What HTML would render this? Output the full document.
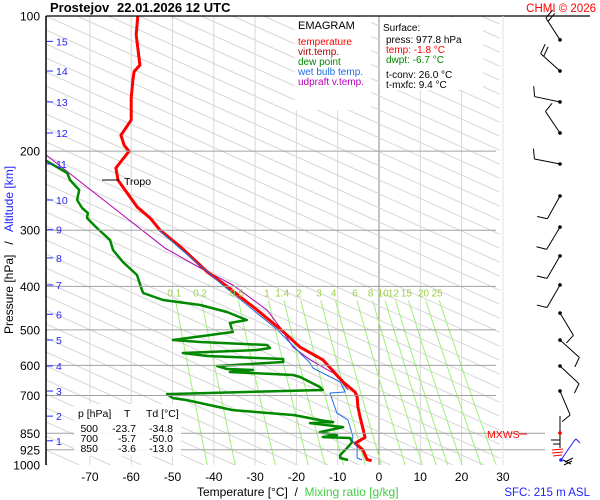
<!DOCTYPE html>
<html><head><meta charset="utf-8">
<style>
html,body{margin:0;padding:0;background:#fff;overflow:hidden;width:600px;height:500px;}
body{font-family:"Liberation Sans",sans-serif;}
svg{display:block;overflow:hidden;}
svg text{font-family:"Liberation Sans",sans-serif;white-space:pre;}
</style></head>
<body>
<svg id="chart" width="600" height="500" viewBox="0 0 600 500" xmlns="http://www.w3.org/2000/svg">
<defs><clipPath id="plotclip"><rect x="46" y="16" width="454" height="449"/></clipPath></defs>
<rect x="0" y="0" width="600" height="500" fill="#fff"/>
<g id="grid" clip-path="url(#plotclip)"></g>
<g id="series" clip-path="url(#plotclip)"></g>
<g id="axes"></g>
<g id="winds"></g>

<text x="50" y="12" font-size="13" font-weight="bold" fill="#000">Prostejov</text>
<text x="117" y="12" font-size="13" font-weight="bold" fill="#000">22.01.2026 12 UTC</text>
<text x="596" y="12" font-size="11.5" fill="#f00" text-anchor="end">CHMI © 2026</text>

<g>
<rect x="295" y="17" width="76" height="93" fill="#fff"/>
<text x="298" y="29" font-size="11" fill="#000">EMAGRAM</text>
<text x="298" y="45" font-size="10" fill="#f00">temperature</text>
<text x="298" y="55" font-size="10" fill="#a00">virt.temp.</text>
<text x="298" y="65" font-size="10" fill="#080">dew point</text>
<text x="298" y="75" font-size="10" fill="#1e6fe0">wet bulb temp.</text>
<text x="298" y="85" font-size="10" fill="#b0b">udpraft v.temp.</text>
</g>
<g>
<rect x="380" y="17" width="103" height="73" fill="#fff"/>
<text x="383" y="31" font-size="10" fill="#000">Surface:</text>
<text x="386" y="43" font-size="10" fill="#000">press: 977.8 hPa</text>
<text x="386" y="53" font-size="10" fill="#f00">temp: -1.8 °C</text>
<text x="386" y="63" font-size="10" fill="#080">dwpt: -6.7 °C</text>
<text x="386" y="78" font-size="10" fill="#000">t-conv: 26.0 °C</text>
<text x="386" y="88" font-size="10" fill="#000">t-mxfc: 9.4 °C</text>
</g>
<g>
<rect x="74" y="404" width="107" height="52" fill="#fff" opacity="0.9"/>
<text x="78" y="417" font-size="10.5" fill="#000">p [hPa]</text>
<text x="124" y="417" font-size="10.5" fill="#000">T</text>
<text x="146" y="417" font-size="10.5" fill="#000">Td [°C]</text>
<text x="98" y="432" font-size="10.5" fill="#000" text-anchor="end">500</text>
<text x="136" y="432" font-size="10.5" fill="#000" text-anchor="end">-23.7</text>
<text x="173" y="432" font-size="10.5" fill="#000" text-anchor="end">-34.8</text>
<text x="98" y="442" font-size="10.5" fill="#000" text-anchor="end">700</text>
<text x="136" y="442" font-size="10.5" fill="#000" text-anchor="end">-5.7</text>
<text x="173" y="442" font-size="10.5" fill="#000" text-anchor="end">-50.0</text>
<text x="98" y="452" font-size="10.5" fill="#000" text-anchor="end">850</text>
<text x="136" y="452" font-size="10.5" fill="#000" text-anchor="end">-3.6</text>
<text x="173" y="452" font-size="10.5" fill="#000" text-anchor="end">-13.0</text>
</g>
<g>
<line x1="102" y1="180" x2="119" y2="180" stroke="#000" stroke-width="1"/>
<text x="124" y="185" font-size="10.5" fill="#000">Tropo</text>
</g>
<g>
<text x="487" y="438" font-size="10.5" fill="#f00">MXWS</text>
<line x1="519" y1="434" x2="527" y2="434" stroke="#f00"/>
</g>
<text transform="translate(13,250) rotate(-90)" text-anchor="middle" font-size="12"><tspan fill="#000">Pressure [hPa]   /   </tspan><tspan fill="#22f">Altitude [km]</tspan></text>
<text x="197" y="496" font-size="12"><tspan fill="#000">Temperature [°C]  /  </tspan><tspan fill="#4c4">Mixing ratio [g/kg]</tspan></text>
<text x="590" y="496" font-size="11.5" fill="#22f" text-anchor="end">SFC: 215 m ASL</text>
<g stroke-width="1" fill="none">
<line x1="560" y1="416" x2="560" y2="448" stroke="#000"/>
<circle cx="560" cy="433" r="1.8" fill="#f00" stroke="none"/>
<polyline points="551,440 560,440 560,444 553,444" stroke="#000"/>
<line x1="552" y1="450" x2="563" y2="449" stroke="#f00"/>
<line x1="552" y1="453" x2="563" y2="452" stroke="#f00"/>
<line x1="553" y1="456" x2="562" y2="455" stroke="#f00"/>
<polyline points="561,460 574,441 576,439 580,443" stroke="#22f"/>
<circle cx="561" cy="460" r="1.8" fill="#22f" stroke="none"/>
<line x1="563" y1="460" x2="571" y2="464" stroke="#000"/>
<line x1="565" y1="462" x2="573" y2="458" stroke="#000"/>
<line x1="564" y1="465" x2="572" y2="461" stroke="#000"/>
</g>
</svg>
<script>
// ---------- data ----------
const tempP = [100,110.2,128.6,133,138.8,152.3,170.4,177.7,184.3,194.2,200,209.3,218,232,247.7,266.1,281.9,300,328.9,371.5,400,451.9,500,546.5,583,653.4,687.6,705.2,741.8,780.3,850,868,894.8,925,972,978];
const tempT = [-58.4,-58.8,-57.9,-59.3,-59.6,-60.0,-60.0,-61.3,-62.5,-61.7,-60.5,-62.2,-63.7,-63.2,-61.0,-58.6,-55.4,-53.0,-47.7,-41.6,-36.8,-29.5,-23.7,-19.1,-13.6,-8.7,-5.8,-5.3,-5.1,-4.6,-3.6,-3.4,-5.8,-3.9,-2.9,-1.8];
const dewP = [209.3,223.7,232,244.1,256.9,267.7,274.7,281.8,296.6,315.5,332,353.1,377.5,407.6,414,429.1,440.2,456.3,475.5,482.8,505.6,526.8,532.2,540.4,548.8,554.5,563.1,571.8,580.7,589.7,601.9,611.2,614.3,620.7,630.4,636.8,670.3,680.8,695,709.5,716.8,754.6,774.2,794.3,802.5,806.6,823.3,844.6,857.7,866.6,870.9,888.9,912,950,964.7,974.7];
const dewT = [-80.9,-75.5,-74.8,-72.6,-73.1,-71.9,-70.5,-70.7,-68.3,-65.1,-64.4,-62.0,-58.6,-57.4,-57.1,-52.3,-43.3,-36.8,-32.0,-36.1,-35.4,-49.9,-43.3,-27.1,-26.4,-29.5,-47.5,-41.6,-23.2,-23.2,-39.2,-36.8,-30.5,-36.1,-20.8,-19.1,-14.3,-13.6,-51.3,-49.9,-46.5,-35.4,-20.5,-14.3,-11.1,-16.7,-8.7,-14.3,-10.2,-13.6,-7.0,-6.5,-7.5,-9.4,-9.4,-7.5];
const wbP = [300,400,500,534.9,592.6,608.1,653.4,687.6,691.1,766.3,794.3,823.3,866.6,879.8,912,964.7,974.7];
const wbT = [-53.3,-37.5,-24.6,-21.5,-16.7,-16.0,-9.4,-8.2,-11.9,-10.2,-7.5,-7.0,-6.3,-6.5,-5.3,-5.3,-4.1];
const updP = [204,328.9,364,397.2,451.9,492.9,546.5,583,624,646.6,680];
const updT = [-80.6,-51.8,-43.3,-35.4,-27.1,-24.0,-20.8,-16.7,-11.1,-9.4,-7.5];
const pressureTicks = [100,200,300,400,500,600,700,850,925,1000];
const tempTicks = [-70,-60,-50,-40,-30,-20,-10,0,10,20,30];
const mixRatios = [0.1,0.2,0.5,1,1.4,2,3,4,6,8,10,12,15,20,25];
const mixLabels = ['0.1','0.2','0.5','1','1.4','2','3','4','6','8','10','12','15','20','25'];
const altKm = [15,14,13,12,11,10,9,8,7,6,5,4,3,2,1];
const altP = [113.9,132.6,155.4,182.2,213.6,256.9,299.2,345.8,397.2,461.6,526.8,601.9,684.3,778.3,883.2];
const windP = [113,132.6,155.4,182.2,213.6,251.7,295.2,342.2,397.2,458.7,526.8,601.9,684.3];
const windDir = [327,312,282,326,281,209,211,210,210,149,132,133,157];
const windSpd = [20,20,10,10,10,10,10,10,10,10,10,10,10];

// ---------- scales ----------
const X0 = 379, KX = 4.13, Y0 = 16, KY = 449;
function xs(t){ return X0 + KX*t; }
function ys(p){ return Y0 + KY*Math.log10(p/100); }
const NS = 'http://www.w3.org/2000/svg';
function mk(tag, attrs, parent){ const e=document.createElementNS(NS,tag); for(const k in attrs) e.setAttribute(k,attrs[k]); parent.appendChild(e); return e; }
const grid = document.getElementById('grid'), series = document.getElementById('series'), axes = document.getElementById('axes'), winds = document.getElementById('winds');

// isotherms
tempTicks.forEach(t=>{
  const l = mk('line',{x1:xs(t),y1:16,x2:xs(t),y2:465,stroke:t===0?'#888':'#d8d8d8','stroke-width':1},grid);
  
  
});
// dry adiabats (background diagonals), clipped analytically to plot box
const XL=46, XR=500, YT=16, YB=465, SL=0.45;
for(let k=-40; k<=40; k++){
  const b = 16 + k*14; // y at x=XL
  let xa=XL, ya=b;
  if(ya<YT){ xa = XL + (YT-b)/SL; ya=YT; }
  let xb=XR, yb=b+SL*(XR-XL);
  if(yb>YB){ xb = XL + (YB-b)/SL; yb=YB; }
  if(xa>=XR || xb<=XL || ya>=YB || yb<=YT || xb<=xa) continue;
  const l = mk('line',{x1:xa.toFixed(1),y1:ya.toFixed(1),x2:xb.toFixed(1),y2:yb.toFixed(1),stroke:'#d6d6d6','stroke-width':1},grid);
  
  
}
// isobars
pressureTicks.forEach(p=>{
  if(p===100||p===1000) return;
  const l = mk('line',{x1:46,y1:ys(p),x2:(p>=850?545:496),y2:ys(p),stroke:'#a0a0a0','stroke-width':1},axes);
  
  
});
// mixing ratio lines
function tdFromW(w,p){ const e=w*p/(622+w); const a=Math.log(e/6.112); return 243.5*a/(17.67-a); }
mixRatios.forEach((w,i)=>{
  let pts=[];
  for(let p=430;p<=1000;p+=10){ pts.push(xs(tdFromW(w,p)).toFixed(1)+','+ys(p).toFixed(1)); }
  const l = mk('polyline',{points:pts.join(' '),fill:'none',stroke:'#9ef07a','stroke-width':1},grid);
  
  
  const tx = mk('text',{x:xs(tdFromW(w,415)),y:ys(415)+3,'font-size':10,fill:'#9ad04a','text-anchor':'middle'},axes);
  tx.textContent = mixLabels[i];
  
  
});
// series
function line(P,T,color,w,name){
  const pts = P.map((p,i)=>xs(T[i]).toFixed(1)+','+ys(p).toFixed(1)).join(' ');
  const l = mk('polyline',{points:pts,fill:'none',stroke:color,'stroke-width':w,'stroke-linejoin':'round'},series);
  
  
}
line(updP,updT,'#b000b0',1,'updraft-line');
line(dewP,dewT,'#008800',2.5,'dew-point-line');
line(tempP,tempT,'#f00',3,'temperature-line');
line(wbP,wbT,'#1e6fe0',1,'wet-bulb-line');

// axes frame
let a = mk('line',{x1:46,y1:16,x2:46,y2:465,stroke:'#000','stroke-width':1.5},axes);
 
a = mk('line',{x1:46,y1:16,x2:590,y2:16,stroke:'#000','stroke-width':1.2},axes);
 
a = mk('line',{x1:503,y1:16,x2:503,y2:465,stroke:'#e0e0e0','stroke-width':1},axes);
 
pressureTicks.forEach(p=>{
  const t = mk('text',{x:40,y:ys(p)+4.5,'font-size':12,'text-anchor':'end',fill:'#000'},axes);
  t.textContent = String(p);
  
  
});
tempTicks.forEach(t=>{
  const tx = mk('text',{x:xs(t),y:481,'font-size':12,'text-anchor':'middle',fill:'#000'},axes);
  tx.textContent = String(t);
  
  
});
altKm.forEach((k,i)=>{
  const y = ys(altP[i]);
  const tk = mk('line',{x1:47,y1:y,x2:53,y2:y,stroke:'#22f','stroke-width':1},axes);
  
  
  const tx = mk('text',{x:56,y:y+4,'font-size':10.5,fill:'#22f'},axes);
  tx.textContent = String(k);
  
  
});
// wind barbs
windP.forEach((p,i)=>{
  const cx=560, cy=ys(p), L=26;
  const r = windDir[i]*Math.PI/180;
  const dx=Math.sin(r), dy=-Math.cos(r);
  const ex=cx+dx*L, ey=cy+dy*L;
  const g = mk('g',{},winds);
  
  
  mk('line',{x1:cx,y1:cy,x2:ex,y2:ey,stroke:'#000','stroke-width':1},g);
  mk('circle',{cx:cx,cy:cy,r:1.8,fill:'#000'},g);
  const px=-dy, py=dx;
  let s=windSpd[i], k=0;
  while(s>=10){ const bx=ex-dx*k*4, by=ey-dy*k*4; mk('line',{x1:bx,y1:by,x2:bx+px*10+dx*3,y2:by+py*10+dy*3,stroke:'#000','stroke-width':1},g); s-=10; k++; }
  if(s>=5){ const bx=ex-dx*k*4, by=ey-dy*k*4; mk('line',{x1:bx,y1:by,x2:bx+px*5+dx*1.5,y2:by+py*5+dy*1.5,stroke:'#000','stroke-width':1},g); }
});
</script>
</body></html>
